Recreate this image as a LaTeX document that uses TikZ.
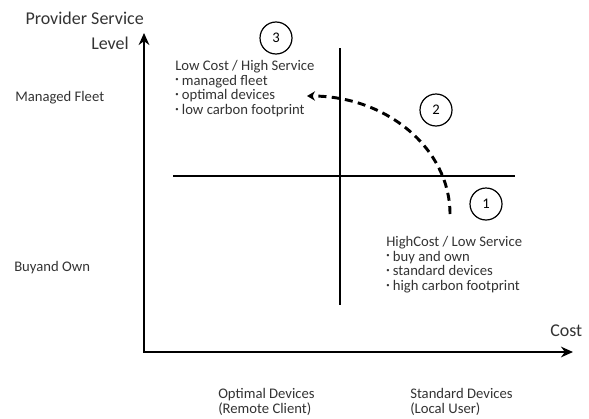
\documentclass[tikz,border=0pt]{standalone}
\usepackage{fontspec}
\setmainfont{Carlito}
\usetikzlibrary{arrows.meta}
\definecolor{labelgray}{HTML}{333333}
\newcommand{\bpt}{\raisebox{0.45ex}{\tiny\textbullet}\hspace{2.5pt}}

\begin{document}
\begin{tikzpicture}[x=0.75pt,y=-0.75pt,
  axis/.style={line width=2.2pt,
    {Stealth[length=9pt,width=8pt]}-{Stealth[length=9pt,width=8pt]}},
  quad/.style={line width=1pt},
  axislabel/.style={font=\fontsize{13.5}{14}\selectfont,text=labelgray,inner sep=0pt},
  lbl/.style={font=\fontsize{11}{11}\selectfont,text=labelgray,inner sep=0pt,align=left},
  num/.style={circle,draw,line width=0.9pt,minimum size=24pt,inner sep=0pt,
    font=\fontsize{11}{11}\selectfont},
  dasharr/.style={line width=2.2pt,dash pattern=on 6pt off 4pt,
    -{Stealth[length=6pt,width=7pt]}}]

  \useasboundingbox (0,0) rectangle (589,418);

  % axes
  \coordinate (ytop) at (144,33);
  \coordinate (origin) at (144,352);
  \coordinate (xend) at (573,352);
  \draw[axis] (ytop) -- (origin) -- (xend);

  \node[axislabel,anchor=east] (yname) at (144,18) {Provider Service};
  \node[axislabel,anchor=east] (ylevel) at (129,43) {Level};
  \node[axislabel,anchor=west] (xname) at (550,331) {Cost};

  \node[lbl,anchor=west] (fleet) at (15,98) {Managed Fleet};
  \node[lbl,anchor=west] (own) at (14,268) {Buyand Own};
  \node[lbl,anchor=north west] (optimal) at (218,388) {Optimal Devices\\(Remote Client)};
  \node[lbl,anchor=north west] (standard) at (410,388) {Standard Devices\\(Local User)};

  % quadrants
  \coordinate (hleft) at (173,176);
  \coordinate (hright) at (515,176);
  \coordinate (vtop) at (340,48);
  \coordinate (vbot) at (340,305);
  \draw[quad] (hleft) -- (hright);
  \draw[quad] (vtop) -- (vbot);

  \node[lbl,anchor=north west] (lowcost) at (175,60)
    {Low Cost / High Service\\\bpt managed fleet\\\bpt optimal devices\\\bpt low carbon footprint};
  \node[lbl,anchor=north west] (highcost) at (386,236)
    {HighCost / Low Service\\\bpt buy and own\\\bpt standard devices\\\bpt high carbon footprint};

  \node[num] (n3) at (276,38) {3};
  \node[num] (n2) at (436,110) {2};
  \node[num] (n1) at (486,204) {1};

  % move from high cost to low cost
  \coordinate (pathstart) at (450,214);
  \coordinate (pathend) at (307,96);
  \draw[dasharr] (pathstart) .. controls (450,149) and (387,96) .. (pathend);
\end{tikzpicture}
\end{document}
